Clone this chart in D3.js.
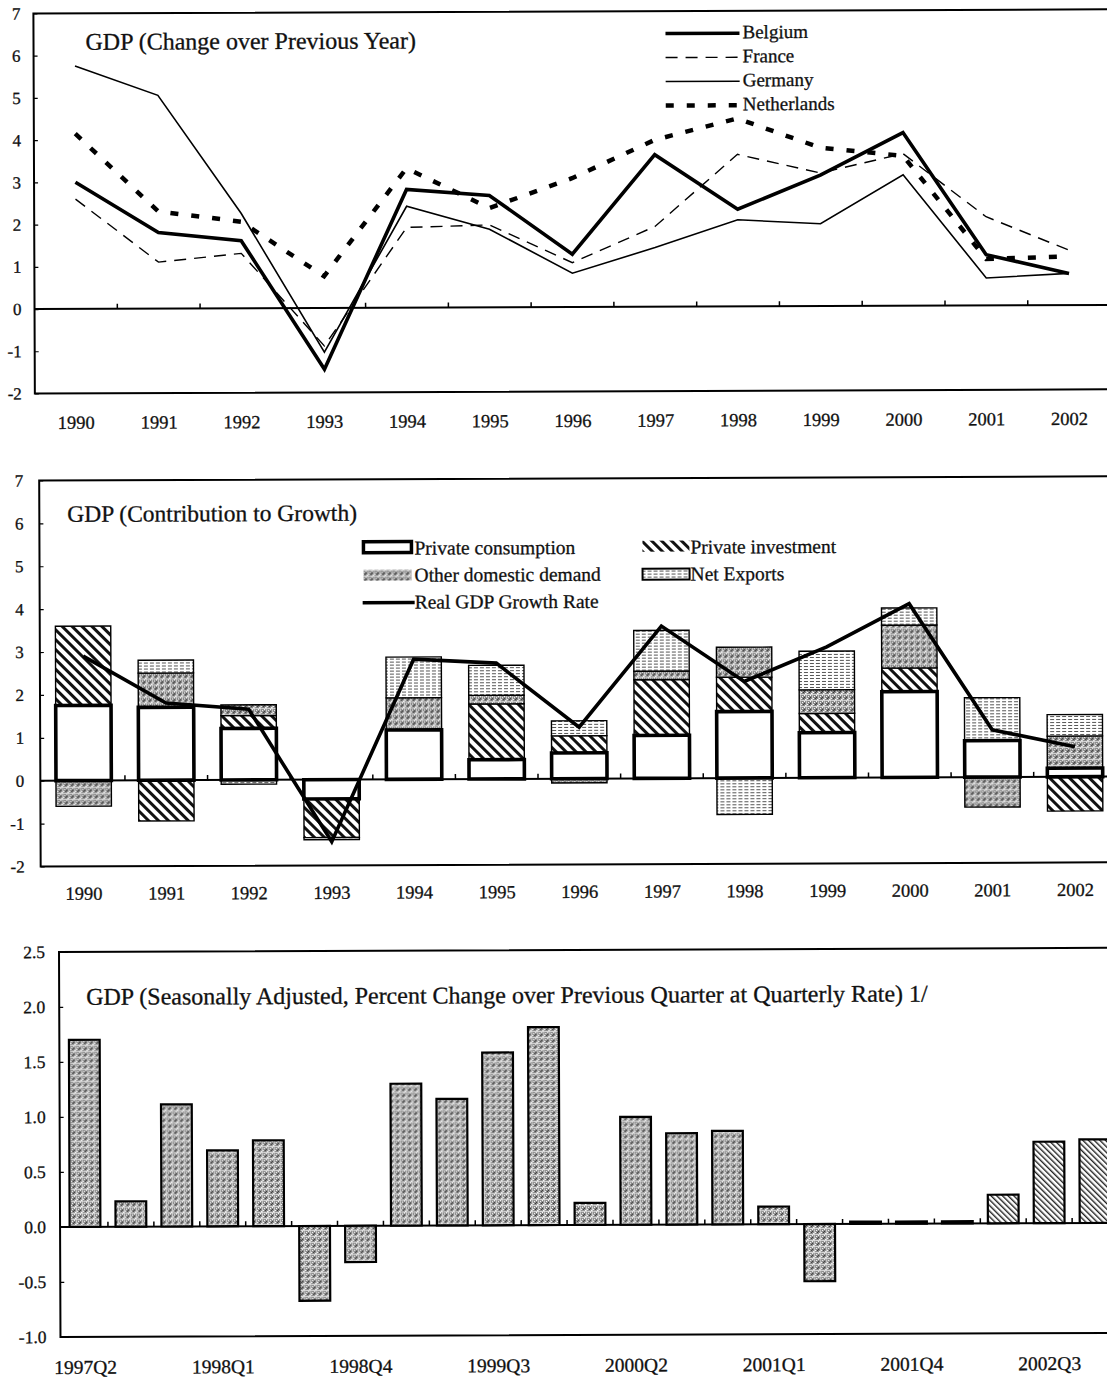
<!DOCTYPE html>
<html>
<head>
<meta charset="utf-8">
<script src="https://cdn.jsdelivr.net/npm/d3@7"></script>
<style>
  body { margin: 0; background: #fff; }
  svg { display: block; }
  text { font-family: "Liberation Serif", "Times New Roman", serif; fill: #111; stroke: #111; stroke-width: 0.3px; }
</style>
</head>
<body>
<svg id="fig" width="1107" height="1377"></svg>
<script>
// ---------- Panel 1: GDP, change over previous year ----------
const years = ["1990","1991","1992","1993","1994","1995","1996","1997","1998","1999","2000","2001","2002"];
const belgium     = [3.0, 1.8, 1.6, -1.45, 2.8, 2.65, 1.25, 3.6, 2.3, 3.1, 4.1, 1.2, 0.75];
const france      = [2.6, 1.1, 1.3, -0.9, 1.9, 1.95, 1.05, 1.9, 3.6, 3.15, 3.6, 2.1, 1.3];
const germany     = [5.75, 5.05, 2.25, -1.05, 2.4, 1.85, 0.8, 1.4, 2.05, 1.95, 3.1, 0.65, 0.75];
const netherlands = [4.15, 2.3, 2.05, 0.75, 3.3, 2.35, 3.05, 3.95, 4.45, 3.75, 3.55, 1.1, 1.15];
const yTicksAnnual = [-2, -1, 0, 1, 2, 3, 4, 5, 6, 7];

// ---------- Panel 2: contributions to growth ----------
const privConsumption = [1.75, 1.7, 1.2, -0.45, 1.15, 0.45, 0.6, 1.0, 1.55, 1.05, 2.0, 0.85, 0.2];
const privInvestment  = [1.85, -0.95, 0.3, -0.9, 0.0, 1.3, 0.4, 1.3, 0.8, 0.45, 0.55, 0.0, -0.8];
const otherDomestic   = [-0.6, 0.8, 0.25, 0.0, 0.75, 0.2, -0.1, 0.2, 0.7, 0.55, 1.0, -0.7, 0.75];
const netExports      = [0.0, 0.3, -0.1, -0.05, 0.95, 0.7, 0.35, 0.95, -0.85, 0.9, 0.4, 1.0, 0.5];
const realGdpGrowth   = [2.9, 1.8, 1.65, -1.45, 2.8, 2.7, 1.2, 3.55, 2.25, 3.05, 4.05, 1.1, 0.7];

// ---------- Panel 3: quarterly growth ----------
const quarters = ["1997Q2","1997Q3","1997Q4","1998Q1","1998Q2","1998Q3","1998Q4",
                  "1999Q1","1999Q2","1999Q3","1999Q4","2000Q1","2000Q2","2000Q3","2000Q4",
                  "2001Q1","2001Q2","2001Q3","2001Q4","2002Q1","2002Q2","2002Q3","2002Q4"];
const quarterlyGrowth = [1.70, 0.23, 1.11, 0.69, 0.78, -0.68, -0.33,
                         1.29, 1.15, 1.57, 1.80, 0.20, 0.98, 0.83, 0.85,
                         0.16, -0.52, 0.02, 0.02, 0.02, 0.26, 0.74, 0.76];
const projectedQuarters = ["2002Q2","2002Q3","2002Q4"];
const quarterLabels = ["1997Q2","1998Q1","1998Q4","1999Q3","2000Q2","2001Q1","2001Q4","2002Q3"];
const yTicksQuarterly = [-1.0, -0.5, 0.0, 0.5, 1.0, 1.5, 2.0, 2.5];

// ---------- setup ----------
const svg = d3.select("#fig");
const defs = svg.append("defs");

// plain hyphen for negative numbers
const hyph = f => v => f(v).replace("\u2212", "-");

// diagonal hatch (private investment)
const hatch = defs.append("pattern").attr("id", "hatch")
  .attr("patternUnits", "userSpaceOnUse").attr("width", 7).attr("height", 7)
  .attr("patternTransform", "rotate(-45)");
hatch.append("rect").attr("width", 7).attr("height", 7).attr("fill", "#fff");
hatch.append("rect").attr("x", 0).attr("width", 3).attr("height", 7).attr("fill", "#111");

// fine hatch (projected quarters)
const fine = defs.append("pattern").attr("id", "fineHatch")
  .attr("patternUnits", "userSpaceOnUse").attr("width", 4).attr("height", 4)
  .attr("patternTransform", "rotate(-45)");
fine.append("rect").attr("width", 4).attr("height", 4).attr("fill", "#fff");
fine.append("rect").attr("width", 1.4).attr("height", 4).attr("fill", "#222");

// stipple (other domestic demand / quarterly bars)
function stipple(id, base) {
  const p = defs.append("pattern").attr("id", id)
    .attr("patternUnits", "userSpaceOnUse").attr("width", 6).attr("height", 6);
  p.append("rect").attr("width", 6).attr("height", 6).attr("fill", base);
  [[0,0],[3,3],[1,4],[4,1]].forEach(([x, y]) =>
    p.append("rect").attr("x", x).attr("y", y).attr("width", 1).attr("height", 1).attr("fill", "#fff"));
  [[2,0],[5,3],[0,2],[3,5]].forEach(([x, y]) =>
    p.append("rect").attr("x", x).attr("y", y).attr("width", 1).attr("height", 1).attr("fill", "#333"));
  p.append("rect").attr("x", 0).attr("y", 5).attr("width", 6).attr("height", 0.8).attr("fill", "#eee");
  p.append("rect").attr("x", 2).attr("y", 0).attr("width", 0.8).attr("height", 6).attr("fill", "#ddd");
}
stipple("stipple", "#868686");
stipple("stippleQ", "#8e8e8e");

// horizontal dashes (net exports)
const nx = defs.append("pattern").attr("id", "netx")
  .attr("patternUnits", "userSpaceOnUse").attr("width", 6).attr("height", 3);
nx.append("rect").attr("width", 6).attr("height", 3).attr("fill", "#fff");
nx.append("rect").attr("x", 0).attr("y", 1).attr("width", 4).attr("height", 1).attr("fill", "#555");

const root = svg.append("g").attr("transform", "rotate(-0.22 553 690)");

function frame(g, x0, yTop, yBot) {
  g.append("path")
    .attr("d", `M1120,${yTop}H${x0}V${yBot}H1120`)
    .attr("fill", "none").attr("stroke", "#000").attr("stroke-width", 2);
}

function yAxis(g, scale, x0, ticks, fmt, pad, size) {
  const ax = g.append("g").attr("transform", `translate(${x0},0)`)
    .call(d3.axisLeft(scale).tickValues(ticks).tickFormat(fmt).tickSizeInner(-4).tickSizeOuter(0).tickPadding(pad));
  ax.select(".domain").remove();
  ax.selectAll("line").attr("stroke", "#000").attr("stroke-width", 1.2);
  ax.selectAll("text").attr("font-size", size).attr("fill", "#111")
    .style("font-family", "'Liberation Serif', serif");
}

function zeroLine(g, xScale, y0, x0, tickLen) {
  g.append("line").attr("x1", x0).attr("x2", 1120).attr("y1", y0).attr("y2", y0)
    .attr("stroke", "#000").attr("stroke-width", 2);
  const d = xScale.domain();
  const step = xScale.step();
  g.selectAll(null).data(d.slice(1)).join("line")
    .attr("x1", c => xScale(c) - step * xScale.paddingInner() / 2)
    .attr("x2", c => xScale(c) - step * xScale.paddingInner() / 2)
    .attr("y1", y0).attr("y2", y0 - tickLen)
    .attr("stroke", "#000").attr("stroke-width", 1.5);
}

// ================= Panel 1 =================
{
  const g = root.append("g");
  const x = d3.scaleBand().domain(years).range([36, 1112]);
  const y = d3.scaleLinear().domain([-2, 7]).range([391.5, 11.5]);
  const cx = d => x(d) + x.bandwidth() / 2;

  frame(g, 36, y(7), y(-2));
  yAxis(g, y, 36, yTicksAnnual, hyph(d3.format("d")), 13, 17);
  zeroLine(g, x, y(0), 36, 5);

  g.selectAll(null).data(years).join("text")
    .attr("x", cx).attr("y", 427).attr("text-anchor", "middle")
    .attr("font-size", 18.5).text(d => d);

  g.append("text").attr("x", 88).attr("y", 48).attr("font-size", 24)
    .text("GDP (Change over Previous Year)");

  const series = [
    { name: "Belgium", values: belgium, width: 3.6, dash: null },
    { name: "France", values: france, width: 1.4, dash: "12,8" },
    { name: "Germany", values: germany, width: 1.6, dash: null },
    { name: "Netherlands", values: netherlands, width: 4.5, dash: "8,13" }
  ];
  const line = d3.line().x((v, i) => cx(years[i])).y(v => y(v));
  series.forEach(s => {
    g.append("path").attr("d", line(s.values)).attr("fill", "none")
      .attr("stroke", "#000").attr("stroke-width", s.width)
      .attr("stroke-linejoin", "miter")
      .attr("stroke-dasharray", s.dash);
  });

  // legend
  const lg = g.append("g");
  series.forEach((s, i) => {
    const ly = 34 + i * 24;
    lg.append("line").attr("x1", 668).attr("x2", 742).attr("y1", ly).attr("y2", ly)
      .attr("stroke", "#000").attr("stroke-width", s.width).attr("stroke-dasharray", s.dash);
    lg.append("text").attr("x", 745).attr("y", ly + 5).attr("font-size", 19).text(s.name);
  });
}

// ================= Panel 2 =================
{
  const g = root.append("g");
  const x = d3.scaleBand().domain(years).range([42, 1116]).paddingInner(0.33).paddingOuter(0.165);
  const y = d3.scaleLinear().domain([-2, 7]).range([864.5, 478.5]);
  const cx = d => x(d) + x.bandwidth() / 2;

  frame(g, 40, y(7), y(-2));
  yAxis(g, y, 40, yTicksAnnual, hyph(d3.format("d")), 16, 17);

  g.selectAll(null).data(years).join("text")
    .attr("x", cx).attr("y", 898).attr("text-anchor", "middle")
    .attr("font-size", 18.5).text(d => d);

  g.append("text").attr("x", 68).attr("y", 520).attr("font-size", 23.5)
    .text("GDP (Contribution to Growth)");

  const rows = years.map((yr, i) => ({
    year: yr, pc: privConsumption[i], pi: privInvestment[i], odd: otherDomestic[i], nx: netExports[i]
  }));
  const keys = ["pc", "pi", "odd", "nx"];
  const stacked = d3.stack().keys(keys).offset(d3.stackOffsetDiverging)(rows);
  const fills = { pc: "#fff", pi: "url(#hatch)", odd: "url(#stipple)", nx: "url(#netx)" };

  const drawLayer = (layer, sw) => {
    g.append("g").selectAll("rect").data(layer.filter(d => d[1] !== d[0])).join("rect")
      .attr("x", d => x(d.data.year))
      .attr("width", x.bandwidth())
      .attr("y", d => y(Math.max(d[0], d[1])))
      .attr("height", d => Math.abs(y(d[0]) - y(d[1])))
      .attr("fill", fills[layer.key])
      .attr("stroke", "#000").attr("stroke-width", sw);
  };
  stacked.filter(l => l.key !== "pc").forEach(l => drawLayer(l, 1.4));
  zeroLine(g, x, y(0), 40, 5);
  drawLayer(stacked.find(l => l.key === "pc"), 3.6);

  g.append("path")
    .attr("d", d3.line().x((v, i) => cx(years[i])).y(v => y(v))(realGdpGrowth))
    .attr("fill", "none").attr("stroke", "#000").attr("stroke-width", 3.6);

  // legend
  const fs = 19.5;
  const lg = g.append("g");
  lg.append("rect").attr("x", 364).attr("y", 541).attr("width", 48).attr("height", 11)
    .attr("fill", "#fff").attr("stroke", "#000").attr("stroke-width", 3.5);
  lg.append("text").attr("x", 415).attr("y", 554).attr("font-size", fs).text("Private consumption");
  lg.append("rect").attr("x", 364).attr("y", 569).attr("width", 48).attr("height", 11)
    .attr("fill", "url(#stipple)");
  lg.append("text").attr("x", 415).attr("y", 581).attr("font-size", fs).text("Other domestic demand");
  lg.append("line").attr("x1", 363).attr("x2", 415).attr("y1", 602).attr("y2", 602)
    .attr("stroke", "#000").attr("stroke-width", 3.5);
  lg.append("text").attr("x", 415).attr("y", 608).attr("font-size", fs).text("Real GDP Growth Rate");
  lg.append("rect").attr("x", 643).attr("y", 541).attr("width", 47).attr("height", 11)
    .attr("fill", "url(#hatch)");
  lg.append("text").attr("x", 691).attr("y", 554).attr("font-size", fs).text("Private investment");
  lg.append("rect").attr("x", 643).attr("y", 569).attr("width", 47).attr("height", 11)
    .attr("fill", "url(#netx)").attr("stroke", "#000").attr("stroke-width", 2);
  lg.append("text").attr("x", 691).attr("y", 581).attr("font-size", fs).text("Net Exports");
}

// ================= Panel 3 =================
{
  const g = root.append("g");
  const x = d3.scaleBand().domain(quarters).range([60, 1116]).paddingInner(0.33).paddingOuter(0.165);
  const y = d3.scaleLinear().domain([-1, 2.5]).range([1335, 950]);
  const cx = d => x(d) + x.bandwidth() / 2;

  frame(g, 58, y(2.5), y(-1));
  yAxis(g, y, 58, yTicksQuarterly, hyph(d3.format(".1f")), 14, 17.5);

  g.selectAll(null).data(quarterLabels).join("text")
    .attr("x", cx).attr("y", 1372).attr("text-anchor", "middle")
    .attr("font-size", 19.5).text(d => d);

  g.append("text").attr("x", 85).attr("y", 1003).attr("font-size", 24)
    .text("GDP (Seasonally Adjusted, Percent Change over Previous Quarter at Quarterly Rate) 1/");

  zeroLine(g, x, y(0), 58, 5);

  g.selectAll("rect.q").data(quarters.map((q, i) => ({ q, v: quarterlyGrowth[i] }))).join("rect")
    .attr("class", "q")
    .attr("x", d => x(d.q))
    .attr("width", x.bandwidth())
    .attr("y", d => y(Math.max(0, d.v)))
    .attr("height", d => Math.abs(y(d.v) - y(0)))
    .attr("fill", d => projectedQuarters.includes(d.q) ? "url(#fineHatch)" : "url(#stippleQ)")
    .attr("stroke", "#000").attr("stroke-width", 2.2);
}
</script>
</body>
</html>
